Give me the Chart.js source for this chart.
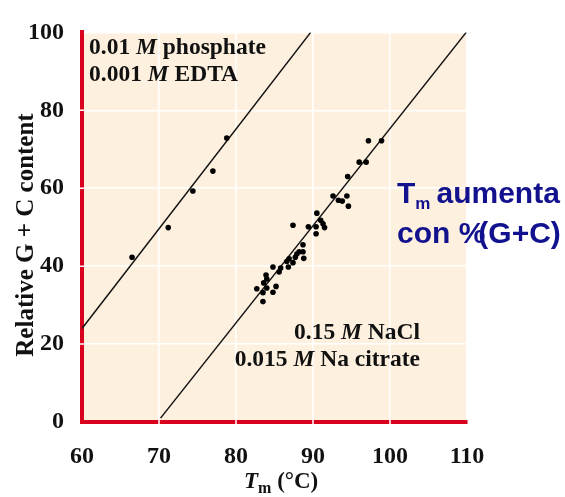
<!DOCTYPE html>
<html>
<head>
<meta charset="utf-8">
<title>Tm vs G+C content</title>
<script src="https://cdn.jsdelivr.net/npm/chart.js@4.4.0/dist/chart.umd.min.js"></script>
<style>
  html, body { margin: 0; padding: 0; background: #ffffff; }
  #wrap { width: 565px; height: 497px; }
</style>
</head>
<body>
<div id="wrap"><canvas id="chart" width="565" height="497"></canvas></div>
<script>
// melting temperature (°C) vs relative G+C content
const phosphateTm = [66.5, 71.2, 74.4, 77.0, 78.8];
const phosphateGC = [42.3, 49.9, 59.3, 64.4, 72.9];

const naclTm = [97.2, 98.9, 96.0, 96.9, 94.5, 92.6, 93.3, 93.8, 94.4, 94.6,
                90.5, 91.0, 91.3, 91.5, 90.4, 90.4, 89.4, 87.4, 88.7, 88.7,
                88.8, 88.2, 87.9, 87.7, 87.4, 86.9, 86.6, 86.8, 85.8, 85.6,
                84.8, 83.9, 84.0, 83.6, 82.7, 84.0, 83.5, 84.8, 85.2, 83.5];
const naclGC = [72.2, 72.2, 66.7, 66.7, 63.0, 58.0, 56.9, 56.7, 58.0, 55.4,
                53.6, 51.8, 50.9, 49.9, 50.1, 48.3, 50.1, 50.5, 45.5, 43.7,
                42.0, 43.7, 43.1, 42.3, 40.9, 41.9, 41.2, 39.8, 39.5, 38.5,
                39.8, 37.7, 36.7, 35.7, 34.2, 34.4, 33.2, 33.3, 34.8, 30.9];

// fitted lines (end points)
const phosphateFitTm = [60.0, 89.7];
const phosphateFitGC = [24.0, 100];
const naclFitTm = [70.2, 109.9];
const naclFitGC = [1.0, 100];

const xTicks = [60, 70, 80, 90, 100, 110];
const yTicks = [0, 20, 40, 60, 80, 100];

const toPoints = (xs, ys) => xs.map((x, i) => ({ x: x, y: ys[i] }));

const SERIF = '"Liberation Serif", "DejaVu Serif", serif';
const SANS = '"Liberation Sans", Arial, sans-serif';
const AXIS_RED = '#d8001c';

// peach plot background + white breaks in the red axes
const plotDecor = {
  id: 'plotDecor',
  beforeDraw(chart) {
    const { ctx, chartArea: a } = chart;
    ctx.save();
    ctx.fillStyle = '#fdf0de';
    ctx.fillRect(a.left, a.top, a.right - a.left, a.bottom - a.top);
    ctx.restore();
  },
  beforeDatasetsDraw(chart) {
    const { ctx, chartArea: a, scales } = chart;
    ctx.save();
    ctx.strokeStyle = '#ffffff';
    ctx.lineWidth = 1.5;
    ctx.beginPath();
    yTicks.slice(1, -1).forEach(v => {
      const py = scales.y.getPixelForValue(v);
      ctx.moveTo(a.left - 3, py);
      ctx.lineTo(a.left + 3, py);
    });
    xTicks.slice(1, -1).forEach(v => {
      const px = scales.x.getPixelForValue(v);
      ctx.moveTo(px, a.bottom - 3);
      ctx.lineTo(px, a.bottom + 3);
    });
    ctx.stroke();
    ctx.restore();
  }
};

// axis titles and notes
const labels = {
  id: 'labels',
  afterDraw(chart) {
    const { ctx } = chart;
    ctx.save();
    ctx.fillStyle = '#111111';
    ctx.textBaseline = 'alphabetic';

    // y title
    ctx.save();
    ctx.translate(33, 235);
    ctx.rotate(-Math.PI / 2);
    ctx.textAlign = 'center';
    ctx.font = 'bold 25px ' + SERIF;
    ctx.fillText('Relative G + C content', 0, 0);
    ctx.restore();

    // x title: T_m (°C)
    ctx.textAlign = 'left';
    let x = 244;
    const by = 488;
    ctx.font = 'italic bold 23px ' + SERIF;
    ctx.fillText('T', x, by);
    x += ctx.measureText('T').width;
    ctx.font = 'bold 16px ' + SERIF;
    ctx.fillText('m', x, by + 5);
    x += ctx.measureText('m').width;
    ctx.font = 'bold 23px ' + SERIF;
    ctx.fillText(' (°C)', x, by);

    // buffer notes, mixed roman / italic M
    const note = (parts, x0, y0, align) => {
      const size = 23.5;
      let w = 0;
      parts.forEach(p => {
        ctx.font = (p.i ? 'italic ' : '') + 'bold ' + size + 'px ' + SERIF;
        w += ctx.measureText(p.t).width;
      });
      let cx = align === 'right' ? x0 - w : x0;
      ctx.textAlign = 'left';
      parts.forEach(p => {
        ctx.font = (p.i ? 'italic ' : '') + 'bold ' + size + 'px ' + SERIF;
        ctx.fillText(p.t, cx, y0);
        cx += ctx.measureText(p.t).width;
      });
    };
    note([{ t: '0.01 ' }, { t: 'M', i: true }, { t: ' phosphate' }], 89, 54, 'left');
    note([{ t: '0.001 ' }, { t: 'M', i: true }, { t: ' EDTA' }], 89, 81, 'left');
    note([{ t: '0.15 ' }, { t: 'M', i: true }, { t: ' NaCl' }], 420, 339, 'right');
    note([{ t: '0.015 ' }, { t: 'M', i: true }, { t: ' Na citrate' }], 420, 366, 'right');

    // blue remark
    ctx.fillStyle = '#12128e';
    ctx.textAlign = 'left';
    let bx = 397;
    ctx.font = 'bold 30px ' + SANS;
    ctx.fillText('T', bx, 203);
    bx += ctx.measureText('T').width;
    ctx.font = 'bold 17px ' + SANS;
    ctx.fillText('m', bx, 209);
    bx += ctx.measureText('m').width + 6;
    ctx.font = 'bold 30px ' + SANS;
    ctx.fillText('aumenta', bx, 203);
    // "%(" set tight, as in the slide
    let cx = 397;
    ctx.fillText('con %', cx, 243);
    cx += ctx.measureText('con %').width - 7;
    ctx.fillText('(G+C)', cx, 243);
    ctx.restore();
  }
};

new Chart(document.getElementById('chart'), {
  type: 'scatter',
  data: {
    datasets: [
      {
        label: '0.01 M phosphate, 0.001 M EDTA',
        data: toPoints(phosphateTm, phosphateGC),
        backgroundColor: '#000000',
        borderColor: '#000000',
        pointRadius: 2.8,
        pointBorderWidth: 0
      },
      {
        label: '0.15 M NaCl, 0.015 M Na citrate',
        data: toPoints(naclTm, naclGC),
        backgroundColor: '#000000',
        borderColor: '#000000',
        pointRadius: 2.8,
        pointBorderWidth: 0
      },
      {
        type: 'line',
        data: toPoints(phosphateFitTm, phosphateFitGC),
        borderColor: '#111111',
        borderWidth: 1.5,
        pointRadius: 0,
        fill: false
      },
      {
        type: 'line',
        data: toPoints(naclFitTm, naclFitGC),
        borderColor: '#111111',
        borderWidth: 1.5,
        pointRadius: 0,
        fill: false
      }
    ]
  },
  options: {
    responsive: false,
    animation: false,
    events: [],
    layout: { padding: { left: 0, right: 98, top: 19, bottom: 0 } },
    plugins: { legend: { display: false }, tooltip: { enabled: false } },
    scales: {
      x: {
        type: 'linear',
        min: 60,
        max: 110,
        afterFit(scale) { scale.height = 75; },
        afterBuildTicks(scale) { scale.ticks = xTicks.map(v => ({ value: v })); },
        grid: { color: '#ffffff', lineWidth: 1.5, drawTicks: false },
        border: { display: true, color: AXIS_RED, width: 4 },
        ticks: {
          padding: 20,
          color: '#111111',
          font: { family: SERIF, size: 24, weight: 'bold' }
        }
      },
      y: {
        type: 'linear',
        min: 0,
        max: 100,
        afterFit(scale) { scale.width = 82; },
        afterBuildTicks(scale) { scale.ticks = yTicks.map(v => ({ value: v })); },
        grid: { color: '#ffffff', lineWidth: 1.5, drawTicks: false },
        border: { display: true, color: AXIS_RED, width: 4 },
        ticks: {
          padding: 18,
          color: '#111111',
          font: { family: SERIF, size: 24, weight: 'bold' }
        }
      }
    }
  },
  plugins: [plotDecor, labels]
});
</script>
</body>
</html>
